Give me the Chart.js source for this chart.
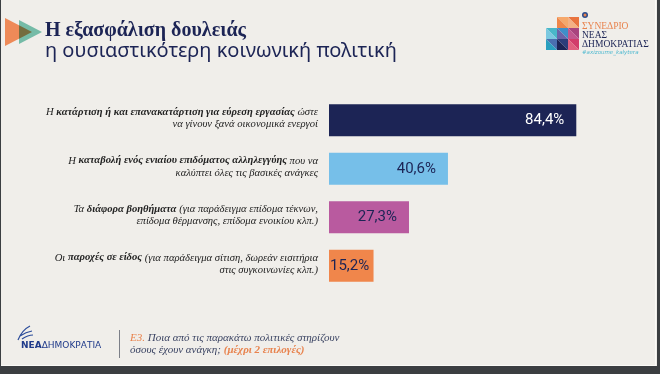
<!DOCTYPE html>
<html>
<head>
<meta charset="utf-8">
<script src="https://cdn.jsdelivr.net/npm/chart.js@4"></script>
<style>
  html, body { margin: 0; padding: 0; background: #3b3e41; }
  #wrap { width: 660px; height: 374px; }
</style>
</head>
<body>
<div id="wrap"><canvas id="chart" width="660" height="374"></canvas></div>
<script>
// data
const categoryLines = [
  ['Η *κατάρτιση ή και επανακατάρτιση για εύρεση εργασίας* ώστε', 'να γίνουν ξανά οικονομικά ενεργοί'],
  ['Η *καταβολή ενός ενιαίου επιδόματος αλληλεγγύης* που να', 'καλύπτει όλες τις βασικές ανάγκες'],
  ['Τα *διάφορα βοηθήματα* (για παράδειγμα επίδομα τέκνων,', 'επίδομα θέρμανσης, επίδομα ενοικίου κλπ.)'],
  ['Οι *παροχές σε είδος* (για παράδειγμα σίτιση, δωρεάν εισιτήρια', 'στις συγκοινωνίες κλπ.)']
];
const values = [84.4, 40.6, 27.3, 15.2];
const valueLabels = ['84,4%', '40,6%', '27,3%', '15,2%'];
const barColors = ['#1c2455', '#76bfe9', '#b95a9f', '#f0864b'];
const valueColors = ['#ffffff', '#1c2455', '#1c2455', '#1c2455'];

const titleText = 'Η εξασφάλιση δουλειάς';
const subtitleText = 'η ουσιαστικότερη κοινωνική πολιτική';
const questionLines = [['Ε3.', ' Ποια από τις παρακάτω πολιτικές στηρίζουν'], ['', 'όσους έχουν ανάγκη; ', '(μέχρι 2 επιλογές)']];

const NAVY = '#1c2455';
const ORANGE = '#e8834e';

function tri(ctx, pts, color) {
    ctx.fillStyle = color;
    ctx.beginPath();
    ctx.moveTo(pts[0], pts[1]);
    ctx.lineTo(pts[2], pts[3]);
    ctx.lineTo(pts[4], pts[5]);
    ctx.closePath();
    ctx.fill();
}

// draws a line with *bold* parts, right aligned at x
function drawRich(ctx, text, xRight, y, size) {
    const parts = text.split('*');
    const fonts = parts.map((p, i) => (i % 2 ? 'italic bold ' : 'italic ') + size + 'px "Liberation Serif"');
    let total = 0;
    parts.forEach((p, i) => { ctx.font = fonts[i]; total += ctx.measureText(p).width; });
    let x = xRight - total;
    parts.forEach((p, i) => {
        ctx.font = fonts[i];
        ctx.fillText(p, x, y);
        x += ctx.measureText(p).width;
    });
}

const slidePlugin = {
    id: 'slide',
    beforeDraw(chart) {
        const ctx = chart.ctx;
        ctx.save();
        ctx.fillStyle = '#3b3e41';
        ctx.fillRect(0, 0, 660, 374);
        ctx.fillStyle = '#f0eeea';
        ctx.fillRect(1, 0, 656, 366);
        ctx.fillStyle = '#fbfaf7';
        ctx.fillRect(655, 0, 1, 366);
        ctx.fillRect(1, 365, 655, 1);

        // title arrows
        tri(ctx, [5, 18, 5, 46, 32, 32], '#ee8a58');
        ctx.globalCompositeOperation = 'multiply';
        tri(ctx, [19, 20, 19, 44, 42, 32], '#7cc9b6');
        ctx.globalCompositeOperation = 'source-over';

        ctx.textBaseline = 'alphabetic';
        ctx.textAlign = 'left';
        ctx.fillStyle = NAVY;
        ctx.font = 'bold 20px "Liberation Serif"';
        ctx.fillText(titleText, 45, 36);
        ctx.font = '20px "Noto Sans"';
        ctx.fillText(subtitleText, 45, 57);

        // congress logo (simplified "1" of triangles)
        const s = 11;
        const cells = [
            [557, 17, '#f6a86b', '#f08649'],
            [568, 17, '#e9743f', '#f4b184'],
            [546, 28, '#49b8c9', '#7bc8e0'],
            [557, 28, '#3f8fc9', '#6a64a9'],
            [568, 28, '#a9447e', '#c2578f'],
            [557, 39, '#2c3d7a', '#1c2455'],
            [568, 39, '#d23d6b', '#e1607f'],
            [546, 39, '#4a6fb0', '#2a9fbf']
        ];
        cells.forEach(c => {
            tri(ctx, [c[0], c[1], c[0] + s, c[1], c[0] + s, c[1] + s], c[2]);
            tri(ctx, [c[0], c[1], c[0], c[1] + s, c[0] + s, c[1] + s], c[3]);
        });
        ctx.fillStyle = '#2a4b8c';
        ctx.beginPath(); ctx.arc(585, 15, 3, 0, Math.PI * 2); ctx.fill();
        ctx.fillStyle = '#e8834e';
        ctx.beginPath(); ctx.arc(585, 15, 1.5, 0, Math.PI * 2); ctx.fill();

        ctx.font = '9.5px "Liberation Serif"';
        ctx.fillStyle = '#e8834e';
        ctx.fillText('ΣΥΝΕΔΡΙΟ', 582, 29);
        ctx.fillStyle = NAVY;
        ctx.fillText('ΝΕΑΣ', 582, 38);
        ctx.fillText('ΔΗΜΟΚΡΑΤΙΑΣ', 582, 47);
        ctx.font = 'italic 5.5px "DejaVu Sans"';
        ctx.fillStyle = '#4fb9d0';
        ctx.fillText('#axizoume_kalytera', 582, 54);

        // footer ND logo
        ctx.strokeStyle = '#2a4b9a';
        ctx.lineWidth = 1.2;
        ctx.beginPath();
        ctx.moveTo(18, 340); ctx.quadraticCurveTo(22, 330, 30, 326);
        ctx.moveTo(20, 336); ctx.quadraticCurveTo(26, 332, 32, 331);
        ctx.moveTo(22, 339); ctx.quadraticCurveTo(28, 335, 33, 335);
        ctx.stroke();
        ctx.fillStyle = '#1f3a8a';
        ctx.font = 'bold 9px "DejaVu Sans"';
        ctx.fillText('ΝΕΑ', 21, 348);
        let w = ctx.measureText('ΝΕΑ').width;
        ctx.font = '9px "DejaVu Sans"';
        ctx.fillText('ΔΗΜΟΚΡΑΤΙΑ', 21 + w, 348);

        ctx.fillStyle = '#7c7f88';
        ctx.fillRect(119, 330, 1, 28);

        // question text
        questionLines.forEach((parts, li) => {
            let x = 130;
            const y = 341 + li * 12;
            parts.forEach((p, pi) => {
                const orange = (li === 0 && pi === 0) || (li === 1 && pi === 2);
                ctx.font = (li === 1 && pi === 2 ? 'italic bold ' : 'italic ') + '11px "Liberation Serif"';
                ctx.fillStyle = orange ? ORANGE : '#3b4463';
                ctx.fillText(p, x, y);
                x += ctx.measureText(p).width;
            });
        });
        ctx.restore();
    },
    afterDatasetsDraw(chart) {
        const ctx = chart.ctx;
        const meta = chart.getDatasetMeta(0);
        const yScale = chart.scales.y;
        ctx.save();
        // category labels
        ctx.fillStyle = '#222222';
        ctx.textBaseline = 'middle';
        categoryLines.forEach((lines, i) => {
            const yc = yScale.getPixelForValue(i) - 2;
            lines.forEach((line, li) => {
                drawRich(ctx, line, 318, yc + (li - 0.5) * 12, 10.6);
            });
        });
        // value labels inside the bars
        ctx.font = '15px Roboto';
        ctx.textAlign = 'right';
        meta.data.forEach((bar, i) => {
            const tw = ctx.measureText(valueLabels[i]).width;
            const x = Math.max(bar.x - 12, bar.base + tw + 1);
            ctx.fillStyle = valueColors[i];
            ctx.fillText(valueLabels[i], x, bar.y);
        });
        ctx.restore();
    }
};

new Chart(document.getElementById('chart'), {
    type: 'bar',
    data: {
        labels: categoryLines.map(l => l.join(' ').replace(/\*/g, '')),
        datasets: [{
            data: values,
            backgroundColor: barColors,
            borderWidth: 0,
            barPercentage: 0.66,
            categoryPercentage: 1
        }]
    },
    options: {
        indexAxis: 'y',
        responsive: false,
        devicePixelRatio: 1,
        animation: false,
        layout: { padding: { left: 329, right: 38, top: 96, bottom: 84 } },
        scales: {
            x: { display: false, min: 0, max: 100 },
            y: { display: false }
        },
        plugins: {
            legend: { display: false },
            tooltip: { enabled: false }
        }
    },
    plugins: [slidePlugin]
});
</script>
</body>
</html>
